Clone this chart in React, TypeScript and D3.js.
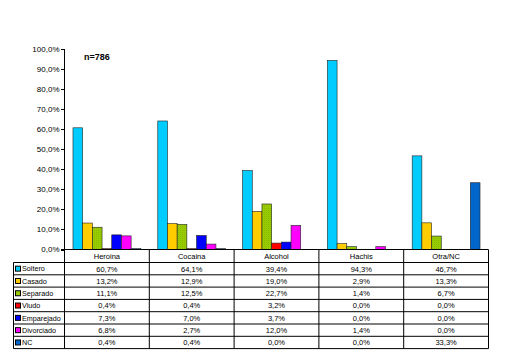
import React from "react";
import * as d3 from "d3";

const categories = ["Heroina", "Cocaina", "Alcohol", "Hachis", "Otra/NC"];
const seriesNames = ["Soltero", "Casado", "Separado", "Viudo", "Emparejado", "Divorciado", "NC"];
const soltero = [60.7, 64.1, 39.4, 94.3, 46.7];
const casado = [13.2, 12.9, 19.0, 2.9, 13.3];
const separado = [11.1, 12.5, 22.7, 1.4, 6.7];
const viudo = [0.4, 0.4, 3.2, 0.0, 0.0];
const emparejado = [7.3, 7.0, 3.7, 0.0, 0.0];
const divorciado = [6.8, 2.7, 12.0, 1.4, 0.0];
const nc = [0.4, 0.4, 0.0, 0.0, 33.3];
const seriesValues = [soltero, casado, separado, viudo, emparejado, divorciado, nc];
const colors = ["#00CCFF", "#FFCC00", "#99CC00", "#FF0000", "#0000FF", "#FF00FF", "#0066CC"];
const yTicks = [0, 10, 20, 30, 40, 50, 60, 70, 80, 90, 100];
const note = "n=786";

const fmt = (v: number) => v.toFixed(1).replace(".", ",") + "%";

export default function App() {
  const W = 505, H = 357;
  const plotLeft = 64.5, plotRight = 488.5, plotTop = 49, plotBottom = 249.5;
  const legendLeft = 13.5;
  const tableTop = 262.5, rowH = 12.3;
  const font = "'Liberation Sans', Arial, sans-serif";

  const x = d3.scaleBand<string>().domain(categories).range([plotLeft, plotRight]).padding(0);
  const bw = x.bandwidth();
  const xs = d3.scaleBand<string>().domain(seriesNames).range([bw * 0.1, bw * 0.9]).padding(0);
  const y = d3.scaleLinear().domain([0, 100]).range([plotBottom, plotTop]);
  const tableBottom = tableTop + rowH * seriesNames.length;

  return (
    <svg width={W} height={H} style={{ position: "absolute", left: 0, top: 0, display: "block" }} fontFamily={font}>
      <defs>
        <pattern id="sep" width="2" height="2" patternUnits="userSpaceOnUse">
          <rect width="2" height="2" fill="#99CC00" />
          <rect x="0" y="0" width="1" height="1" fill="#88bb00" />
        </pattern>
      </defs>
      <rect width={W} height={H} fill="#fff" />
      {/* y axis */}
      <line x1={plotLeft} x2={plotLeft} y1={plotTop} y2={tableBottom} stroke="#000" strokeWidth={1} />
      {yTicks.map((t) => (
        <g key={t}>
          <line x1={plotLeft - 3.5} x2={plotLeft} y1={Math.round(y(t)) + 0.5} y2={Math.round(y(t)) + 0.5} stroke="#000" />
          <text x={plotLeft - 5} y={y(t)} dy="0.35em" textAnchor="end" fontSize={8} fill="#000">{fmt(t)}</text>
        </g>
      ))}
      <text x={84} y={60} fontSize={9} fontWeight="bold" fill="#000">{note}</text>
      {/* bars */}
      {categories.map((c, ci) => (
        <g key={c}>
          {seriesNames.map((s, si) => {
            const v = seriesValues[si][ci];
            const x0 = (x(c) as number) + (xs(s) as number);
            const h = plotBottom - y(v);
            return (
              <rect key={s} x={x0} y={y(v)} width={xs.bandwidth()} height={Math.max(h, 0)}
                fill={si === 2 ? "url(#sep)" : colors[si]} stroke="#222" strokeWidth={0.6} />
            );
          })}
        </g>
      ))}
      {/* baseline */}
      <line x1={plotLeft - 3.5} x2={plotRight} y1={plotBottom} y2={plotBottom} stroke="#000" strokeWidth={1} />
      {/* table */}
      {categories.map((c, ci) => (
        <g key={c}>
          <line x1={(x(c) as number) + bw} x2={(x(c) as number) + bw} y1={plotBottom} y2={tableBottom} stroke="#000" />
          <text x={(x(c) as number) + bw / 2} y={(plotBottom + tableTop) / 2} dy="0.38em" textAnchor="middle" fontSize={7.5} fill="#000">{c}</text>
          {seriesNames.map((s, si) => (
            <text key={s} x={(x(c) as number) + bw / 2} y={tableTop + rowH * si + rowH / 2} dy="0.38em" textAnchor="middle" fontSize={7.5} fill="#000">
              {fmt(seriesValues[si][ci])}
            </text>
          ))}
        </g>
      ))}
      {d3.range(seriesNames.length + 1).map((i) => (
        <line key={i} x1={legendLeft} x2={plotRight} y1={tableTop + rowH * i} y2={tableTop + rowH * i} stroke="#000" />
      ))}
      <line x1={legendLeft} x2={legendLeft} y1={tableTop} y2={tableBottom} stroke="#000" />
      {seriesNames.map((s, si) => {
        const cy = tableTop + rowH * si + rowH / 2;
        return (
          <g key={s}>
            <rect x={15.5} y={cy - 2.5} width={5} height={5} fill={colors[si]} stroke="#000" strokeWidth={1} />
            <text x={22} y={cy} dy="0.38em" fontSize={7.2} fill="#000">{s}</text>
          </g>
        );
      })}
    </svg>
  );
}
